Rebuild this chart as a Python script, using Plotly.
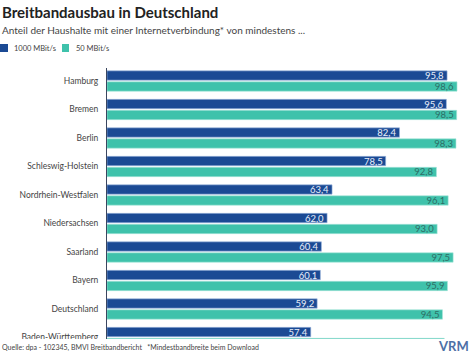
import plotly.graph_objects as go

regions = ["Hamburg", "Bremen", "Berlin", "Schleswig-Holstein", "Nordrhein-Westfalen",
           "Niedersachsen", "Saarland", "Bayern", "Deutschland", "Baden-Württemberg"]
v1000 = [95.8, 95.6, 82.4, 78.5, 63.4, 62.0, 60.4, 60.1, 59.2, 57.4]
v50 = [98.6, 98.5, 98.3, 92.8, 96.1, 93.0, 97.5, 95.9, 94.5, 95.0]
series_names = ["1000 MBit/s", "50 MBit/s"]

DARK = "#1b4a94"
TEAL = "#3fc2ab"
FONT = "Lato"
W, H = 474, 355
L, R, T, B = 107, 12, 68, 10
pos = list(range(len(regions)))

fig = go.Figure()
fig.add_trace(go.Bar(
    y=pos, x=v1000, orientation="h", name=series_names[0],
    marker=dict(color=DARK, line=dict(color="#9fb8df", width=0.6)),
    texttemplate="%{x:.1f}", textposition="inside", insidetextanchor="end",
    constraintext="none", textangle=0,
    insidetextfont=dict(family=FONT, size=9.5, color="#e8eefa"),
    hoverinfo="skip",
))
fig.add_trace(go.Bar(
    y=pos, x=v50, orientation="h", name=series_names[1],
    marker=dict(color=TEAL, line=dict(color="#a8e6da", width=0.6)),
    texttemplate="%{x:.1f}", textposition="inside", insidetextanchor="end",
    constraintext="none", textangle=0,
    insidetextfont=dict(family=FONT, size=9.5, color="#2e6e66"),
    hoverinfo="skip",
))

plot_h = H - T - B
px_per_unit = 28.5
top_units = -(81 - T) / px_per_unit
bottom_units = top_units + plot_h / px_per_unit

fig.update_layout(
    width=W, height=H,
    margin=dict(l=L, r=R, t=T, b=B, pad=0),
    barmode="group", bargap=0.23, bargroupgap=0.15,
    separators=",.",
    showlegend=False,
    paper_bgcolor="white", plot_bgcolor="white",
    font=dict(family=FONT, color="#444"),
    xaxis=dict(range=[0, 100], visible=False, fixedrange=True),
    yaxis=dict(range=[bottom_units, top_units], tickmode="array",
               tickvals=pos, ticktext=regions, showgrid=False, zeroline=False,
               showline=True, linecolor="#3a4660", linewidth=1,
               ticks="", ticklabelstandoff=6,
               tickfont=dict(family=FONT, size=8.5, color="#444"), fixedrange=True),
)

cover_y1 = (H - B - 339) / plot_h
fig.add_shape(type="rect", xref="paper", yref="paper", x0=-0.5, x1=1.2,
              y0=-0.2, y1=cover_y1, fillcolor="white", line=dict(width=0), layer="above")

def px_to_paper_x(px):
    return (px - L) / (W - L - R)

def px_to_paper_y(py):
    return (H - B - py) / plot_h

ann = []
ann.append(dict(text="<b>Breitbandausbau in Deutschland</b>", x=px_to_paper_x(0), y=px_to_paper_y(12),
                xanchor="left", yanchor="middle", font=dict(family=FONT, size=15, color="#222")))
ann.append(dict(text="Anteil der Haushalte mit einer Internetverbindung* von mindestens ...",
                x=px_to_paper_x(0), y=px_to_paper_y(30), xanchor="left", yanchor="middle",
                font=dict(family=FONT, size=10, color="#444")))
ann.append(dict(text=series_names[0], x=px_to_paper_x(12), y=px_to_paper_y(48), xanchor="left",
                yanchor="middle", font=dict(family=FONT, size=7.5, color="#444")))
ann.append(dict(text=series_names[1], x=px_to_paper_x(74), y=px_to_paper_y(48), xanchor="left",
                yanchor="middle", font=dict(family=FONT, size=7.5, color="#444")))
ann.append(dict(text="Quelle: dpa - 102345, BMVI Breitbandbericht   *Mindestbandbreite beim Download",
                x=px_to_paper_x(0), y=px_to_paper_y(347), xanchor="left", yanchor="middle",
                font=dict(family=FONT, size=7, color="#444")))
ann.append(dict(text="<b>VRM</b>", x=px_to_paper_x(471), y=px_to_paper_y(346), xanchor="right",
                yanchor="middle", font=dict(family=FONT, size=13, color="#4d6fa6")))
for a in ann:
    a.update(xref="paper", yref="paper", showarrow=False)
fig.update_layout(annotations=ann)

fig.add_shape(type="rect", xref="paper", yref="paper", x0=px_to_paper_x(0), x1=px_to_paper_x(8),
              y0=px_to_paper_y(52), y1=px_to_paper_y(44), fillcolor=DARK, line=dict(width=0), layer="above")
fig.add_shape(type="rect", xref="paper", yref="paper", x0=px_to_paper_x(62), x1=px_to_paper_x(69),
              y0=px_to_paper_y(52), y1=px_to_paper_y(44), fillcolor=TEAL, line=dict(width=0), layer="above")

fig.write_html("out.html", config=dict(displayModeBar=False),
               post_script="document.body.style.margin='0';document.body.style.overflow='hidden';")
